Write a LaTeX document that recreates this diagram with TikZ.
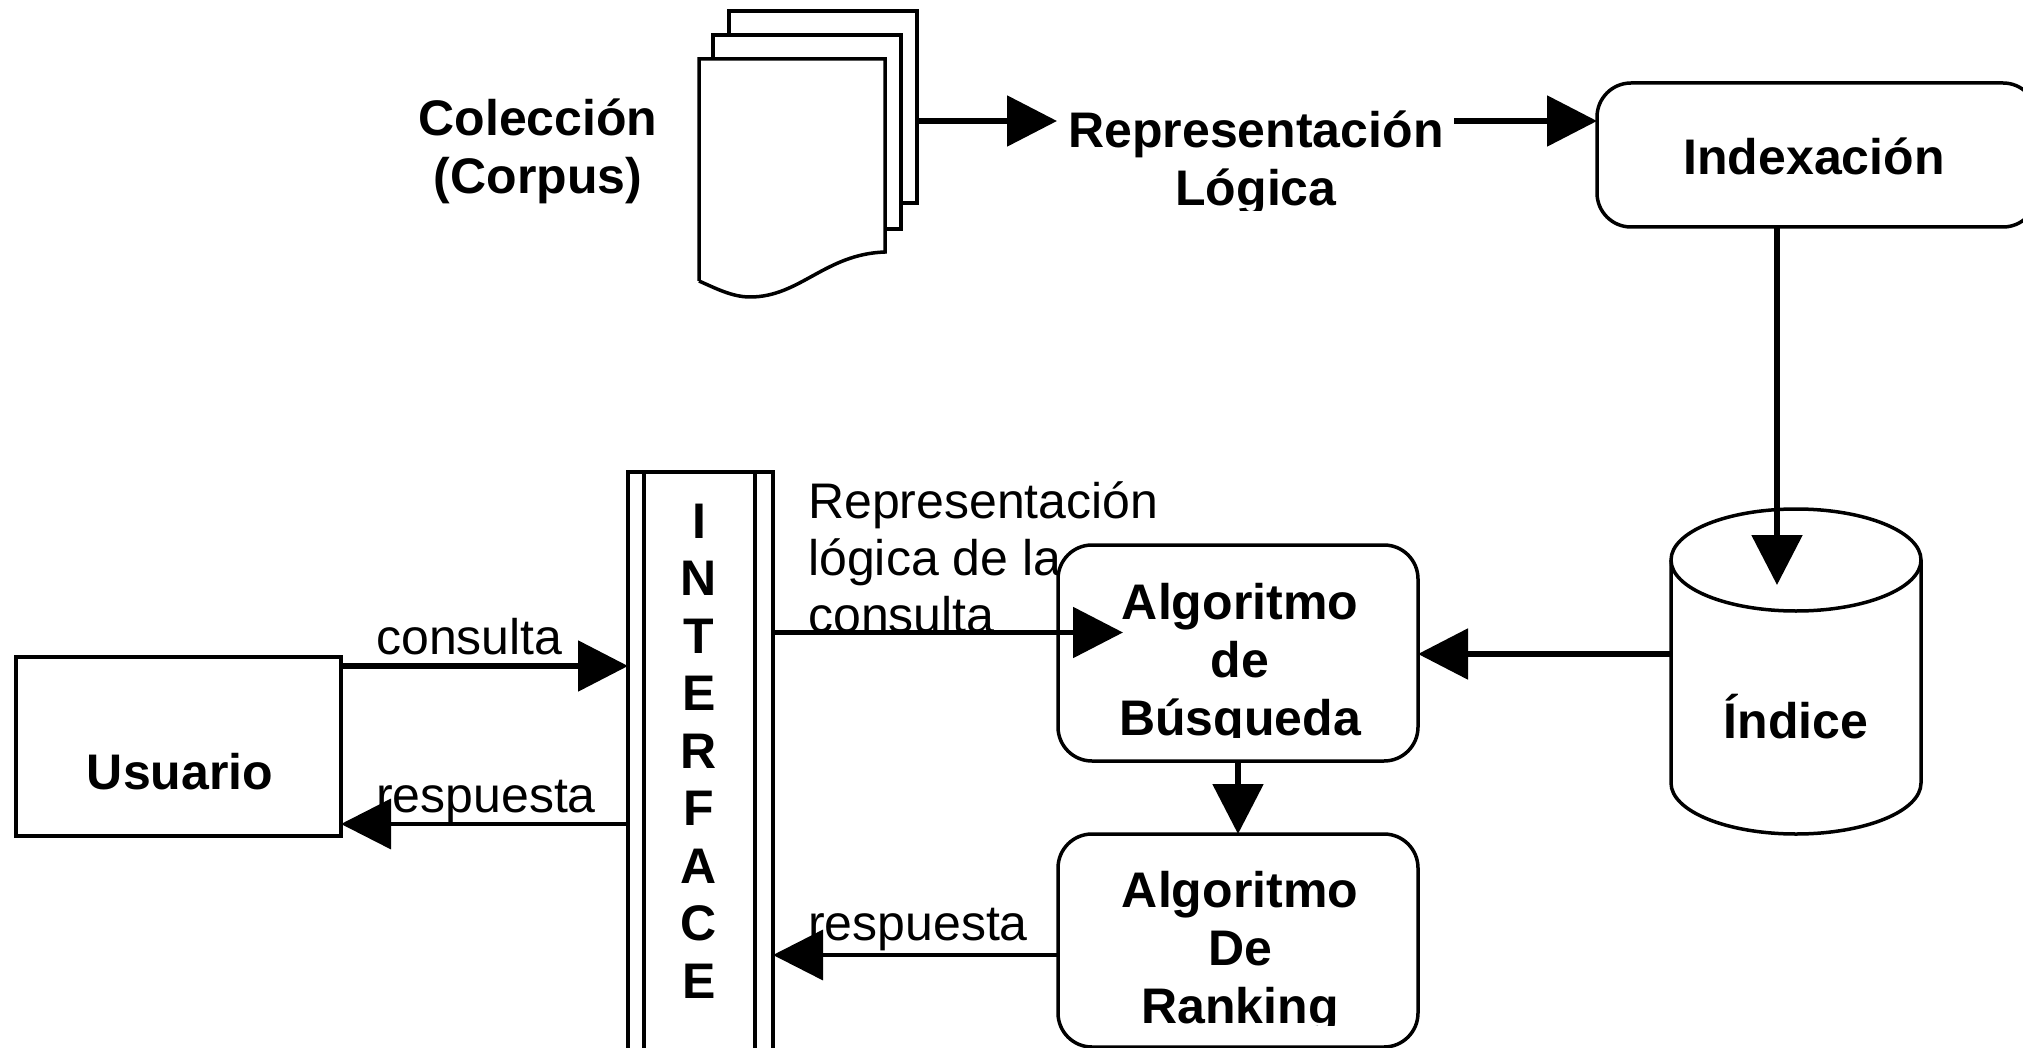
\documentclass[tikz,border=0pt]{standalone}
\usepackage{fontspec}
\setmainfont{Liberation Sans}
\usetikzlibrary{arrows.meta,shapes.geometric}
\tikzset{
  ln/.style={draw=black,line width=3.5pt},
  plainbox/.style={ln,fill=white,rectangle,inner sep=0pt,outer sep=0pt},
  roundbox/.style={plainbox,rounded corners=34pt},
  bigarrow/.style={draw=black,line width=5.5pt,-{Triangle[length=50pt,width=50pt]}},
  thinarrow/.style={draw=black,line width=3.5pt,-{Triangle[length=50pt,width=50pt]}},
  boldtext/.style={font=\fontsize{50}{58}\selectfont\bfseries,align=center,inner sep=0pt,anchor=base},
  regtext/.style={font=\fontsize{50}{57}\selectfont,align=left,inner sep=0pt,anchor=base west},
}
\begin{document}
\begin{tikzpicture}[x=1pt,y=-1pt]
\useasboundingbox[fill=white] (0,0) rectangle (2023,1048);
% document stack
\draw[ln,fill=white,line join=miter] (729,35) -- (729,11) -- (917,11) -- (917,203) -- (901,203);
\draw[ln,fill=white,line join=miter] (713,59) -- (713,35) -- (901,35) -- (901,229) -- (885,229);
\draw[ln,fill=white,line join=miter] (699,281) -- (699,59) -- (885,59) -- (885,252)
  .. controls (825,254) and (800,297) .. (750,297) .. controls (732,297) and (715,288) .. (699,281);
\coordinate (docout) at (917,121);
\coordinate (reprin) at (1057,121);
\coordinate (reprout) at (1454,121);
% top row
\node[boldtext] (coleccion) at (538,194) {Colección\\(Corpus)};
\begin{scope}
  \clip (1000,90) rectangle (1500,211);
  \node[boldtext] (repr) at (1256,206) {Representación\\Lógica};
\end{scope}
\node[roundbox,minimum width=440pt,minimum height=144pt,anchor=north west] (indexacion) at (1597,83) {};
\node[boldtext] (indextext) at (1814,175) {Indexación};
% cylinder
\draw[ln,fill=white] (1671,560) -- (1671,783) arc[start angle=180,end angle=360,x radius=125,y radius=-51] -- (1921,560);
\node[ln,fill=white,ellipse,minimum width=250pt,minimum height=102pt,inner sep=0pt,outer sep=0pt] (indice) at (1796,560) {};
\node[boldtext] (indicetext) at (1796,738) {Índice};
% query text
\node[regtext] (replog) at (808,575.5) {Representación\\lógica de la};
\begin{scope}
  \clip (800,590) rectangle (1100,632);
  \node[regtext] (repcons) at (808,632) {consulta};
\end{scope}
% algorithm boxes
\node[roundbox,minimum width=360pt,minimum height=216pt,anchor=north west] (busqueda) at (1058,545) {};
\node[roundbox,minimum width=360pt,minimum height=213pt,anchor=north west] (ranking) at (1058,834) {};
\begin{scope}
  \clip (1070,570) rectangle (1410,737);
  \node[boldtext] (busquedatext) at (1240,735) {Algoritmo\\de\\Búsqueda};
\end{scope}
\begin{scope}
  \clip (1070,860) rectangle (1410,1025);
  \node[boldtext] (rankingtext) at (1240,1023) {Algoritmo\\De\\Ranking};
\end{scope}
% interface
\node[plainbox,minimum width=145pt,minimum height=620pt,anchor=north west] (interface) at (628,472) {};
\node[plainbox,minimum width=111pt,minimum height=620pt,anchor=north west] (interfaceinner) at (644,472) {};
\node[boldtext,font=\fontsize{50}{57.5}\selectfont\bfseries] (interfacetext) at (699,998) {I\\N\\T\\E\\R\\F\\A\\C\\E};
% user
\node[plainbox,minimum width=325pt,minimum height=179pt,anchor=north west] (usuario) at (16,657) {};
\node[boldtext] (usuariotext) at (180,789) {Usuario};
% small labels
\node[regtext] (lconsulta) at (376,654) {consulta};
\node[regtext] (lresp1) at (376,812) {respuesta};
\node[regtext] (lresp2) at (808,940) {respuesta};
% connectors
\coordinate (ua) at (341,666);
\coordinate (ub) at (628,824);
\coordinate (ic) at (773,632.5);
\coordinate (rr) at (1058,955);
\coordinate (ib) at (1671,654);
\coordinate (ix) at (1777,227);
\coordinate (ixend) at (1777,585);
\coordinate (bx) at (1238,761);
\draw[bigarrow] (docout) -- (reprin);
\draw[bigarrow] (reprout) -- (reprout -| indexacion.west);
\draw[bigarrow] (ix) -- (ixend);
\draw[bigarrow] (ib) -- (ib -| busqueda.east);
\draw[bigarrow] (bx) -- (bx |- ranking.north);
\draw[bigarrow] (ua) -- (ua -| interface.west);
\draw[bigarrow] (ic) -- (1123,632.5);
\draw[thinarrow] (ub) -- (ub -| usuario.east);
\draw[thinarrow] (rr) -- (rr -| interface.east);
\end{tikzpicture}
\end{document}
